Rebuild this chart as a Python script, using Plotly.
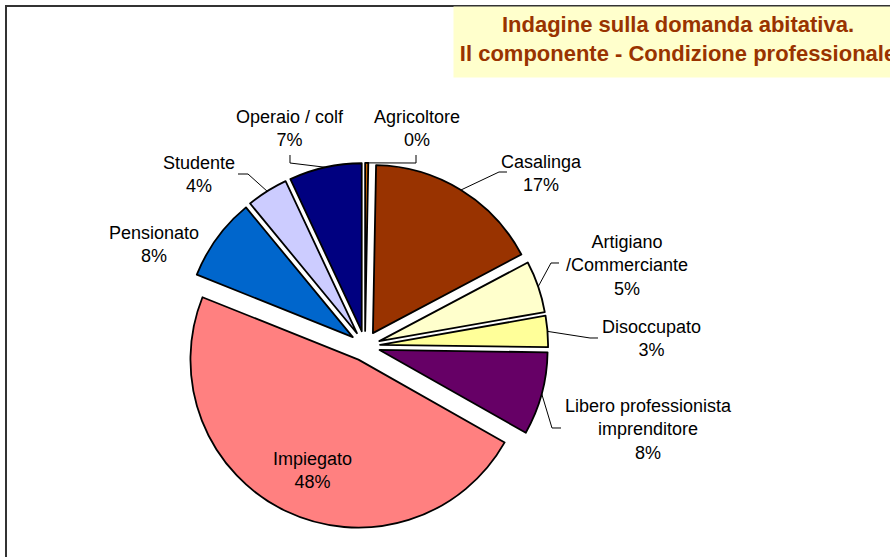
import math
import plotly.graph_objects as go

# ----- data -----
labels = ["Agricoltore", "Casalinga", "Artigiano<br>/Commerciante", "Disoccupato",
          "Libero professionista<br>imprenditore", "Impiegato", "Pensionato",
          "Studente", "Operaio / colf"]
values = [0.3, 17, 5, 3, 8, 48, 8, 4, 7]
colors = ["#CC6600", "#993300", "#FFFFCC", "#FFFF99", "#660066",
          "#FF8080", "#0066CC", "#CCCCFF", "#000080"]

title_text = "<b>Indagine sulla domanda abitativa.<br>Il componente - Condizione professionale</b>"

# ----- layout (pixels) -----
W, H = 890, 557
PULL = 0.09
cx, cy, rad = 365, 346, 168
half = rad * (1 + PULL)

# label centres and leader line routing (elbow, end) in px
label_pos = [(417, 128), (541, 174), (627, 265), (651, 339), (648, 429),
             (312, 470), (154, 245), (199, 175), (290, 128)]
leaders = [[(416, 163), (416, 155)], [(499, 172), (507, 172)], [(551, 263), (559, 263)],
           [(590, 338), (598, 338)], [(552, 428), (561, 428)], None, None,
           [(248, 174), (238, 174)], [(290, 163), (290, 155)]]


def px(x):
    return x / W


def py(y):
    return 1 - y / H


fig = go.Figure()

fig.add_trace(go.Pie(
    labels=labels,
    values=values,
    sort=False,
    direction="clockwise",
    rotation=0,
    pull=[PULL] * len(values),
    marker=dict(colors=colors, line=dict(color="black", width=1.8)),
    textinfo="none",
    hoverinfo="label+percent",
    domain=dict(x=[px(cx - half), px(cx + half)], y=[py(cy + half), py(cy - half)]),
    showlegend=False,
))

# data labels + leader lines
total = sum(values)
cum = 0
annotations = []
shapes = []
for lab, v, pos, lead in zip(labels, values, label_pos, leaders):
    pct = round(v / total * 100)
    annotations.append(dict(
        x=px(pos[0]), y=py(pos[1]), xref="paper", yref="paper",
        text=f"{lab}<br>{pct}%", showarrow=False,
        xanchor="center", yanchor="middle", align="center",
        font=dict(family="Liberation Sans, Arial, sans-serif", size=18, color="black"),
    ))
    theta = math.radians(360 * (cum + v / 2) / total)
    cum += v
    if lead is None:
        continue
    ex = cx + rad * (1 + PULL) * math.sin(theta)
    ey = cy - rad * (1 + PULL) * math.cos(theta)
    pts = [(ex, ey)] + lead
    path = "M " + " L ".join(f"{px(a):.5f},{py(b):.5f}" for a, b in pts)
    shapes.append(dict(type="path", xref="paper", yref="paper", path=path,
                       line=dict(color="black", width=1)))

# title box
annotations.append(dict(
    x=px(678), y=py(6), xref="paper", yref="paper",
    text=title_text, showarrow=False, xanchor="center", yanchor="top",
    width=438, height=60, borderpad=5, bgcolor="#FFFFCC", align="center",
    valign="top",
    font=dict(family="Liberation Sans, Arial, sans-serif", size=22, color="#993300"),
))

# chart border
shapes.append(dict(type="rect", xref="paper", yref="paper",
                   x0=px(6), x1=1.05, y0=-0.05, y1=py(6),
                   line=dict(color="#333333", width=2)))

fig.update_layout(
    width=W, height=H,
    margin=dict(l=0, r=0, t=0, b=0),
    paper_bgcolor="white",
    plot_bgcolor="white",
    annotations=annotations,
    shapes=shapes,
)

fig.write_html("out.html", config={"displayModeBar": False},
               post_script="document.body.style.margin='0px';")
